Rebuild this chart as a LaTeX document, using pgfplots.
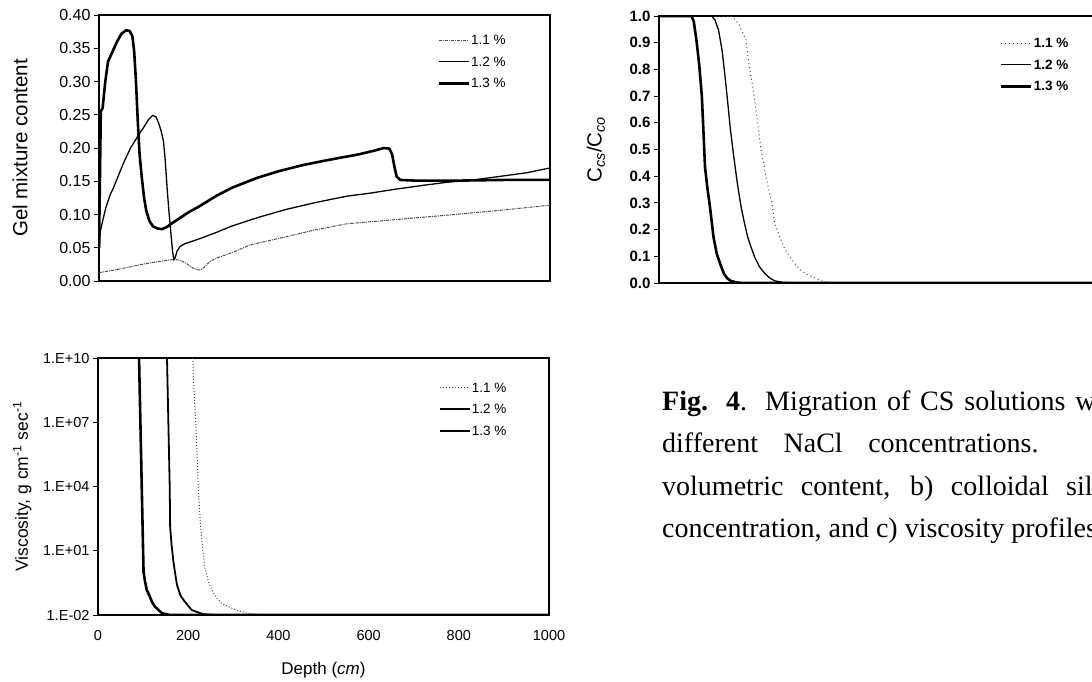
\documentclass[border=0pt]{standalone}
\usepackage{fontspec}
\setmainfont{Liberation Sans}
\newfontfamily\capfont{Liberation Serif}
\usepackage{pgfplots}
\pgfplotsset{compat=1.18}

% 1pt in the picture = 1px of the 1092x681 reference
\pgfplotsset{
  legend image code/.code={\draw[#1] (0pt,0pt) -- (30pt,0pt);},
  panel/.style={
    scale only axis, width=451pt, xmin=0, xmax=1000,
    axis line style={line width=1.3pt},
    tick align=outside, xtick pos=left, ytick pos=left,
    major tick length=5pt,
    every tick/.style={black, line width=1pt},
    tick label style={font=\fontsize{16}{16}\selectfont},
    every axis y label/.style={rotate=90, anchor=center,
      font=\fontsize{20.5}{20.5}\selectfont},
    legend cell align=left,
    legend style={draw=none, fill=none, inner sep=0pt, anchor=north west,
      font=\fontsize{13.5}{13.5}\selectfont, row sep=9pt,
      nodes={inner sep=1pt, text height=9.5pt, text depth=1pt}},
  },
  c11/.style={black!70, line width=1pt},
  c12/.style={black, line width=1.3pt},
  c13/.style={black, line width=2.6pt},
}

\begin{document}
\begin{tikzpicture}

% a) gel mixture content
\begin{axis}[panel, at={(99pt,-281pt)}, anchor=south west, height=266pt,
  ymin=0, ymax=0.4,
  ytick={0,0.05,0.10,0.15,0.20,0.25,0.30,0.35,0.40},
  yticklabels={0.00,0.05,0.10,0.15,0.20,0.25,0.30,0.35,0.40},
  xtick=\empty,
  ylabel={Gel mixture content},
  every axis y label/.append style={at={(axis description cs:-0.175,0.5)}},
  legend style={at={(0.75,0.929)}},
]
\addplot[c11, densely dash dot] coordinates {
(0,0.0125)(30,0.016)(60,0.02)(95,0.025)(130,0.029)(167,0.0325)(180,0.031)
(195,0.026)(207,0.02)(218,0.017)(225,0.0165)(232,0.02)(239,0.025)(250,0.031)
(263,0.035)(300,0.044)(334,0.054)(414,0.0665)(480,0.077)(549,0.086)
(652,0.092)(772,0.099)(900,0.107)(1000,0.114)};
\addlegendentry{1.1 \%}
\addplot[c12] coordinates {
(0,0.04)(3,0.075)(8,0.09)(15,0.11)(25,0.13)(32,0.14)(45,0.162)(56,0.18)
(70,0.2)(88,0.22)(100,0.232)(110,0.243)(119,0.249)(126,0.247)(132,0.238)
(138,0.225)(143,0.21)(147,0.18)(151,0.14)(155,0.105)(159,0.075)(163,0.045)
(166,0.032)(169,0.035)(173,0.045)(180,0.052)(190,0.056)(223,0.0635)
(260,0.073)(294,0.0825)(350,0.095)(414,0.1075)(480,0.118)(549,0.1275)
(600,0.132)(652,0.1375)(720,0.144)(772,0.1485)(830,0.152)(891,0.1575)
(950,0.163)(1000,0.17)};
\addlegendentry{1.2 \%}
\addplot[c13, line join=round] coordinates {
(0,0.05)(2,0.15)(4,0.255)(8,0.26)(14,0.30)(20,0.33)(30,0.345)(40,0.36)
(50,0.372)(60,0.377)(68,0.376)(74,0.368)(78,0.345)(82,0.30)(86,0.24)
(90,0.19)(95,0.155)(100,0.125)(105,0.105)(112,0.09)(120,0.082)(130,0.079)
(140,0.078)(150,0.081)(160,0.086)(180,0.095)(200,0.104)(223,0.1125)
(260,0.128)(294,0.14)(350,0.155)(398,0.165)(450,0.174)(493,0.18)
(540,0.186)(573,0.19)(610,0.196)(632,0.20)(644,0.199)(650,0.19)
(655,0.172)(660,0.157)(668,0.152)(700,0.151)(800,0.151)(900,0.152)
(1000,0.152)};
\addlegendentry{1.3 \%}
\end{axis}

% b) colloidal silica concentration
\begin{axis}[panel, at={(659pt,-283pt)}, anchor=south west, height=267pt,
  ymin=0, ymax=1,
  ytick={0,0.1,0.2,0.3,0.4,0.5,0.6,0.7,0.8,0.9,1},
  yticklabels={0.0,0.1,0.2,0.3,0.4,0.5,0.6,0.7,0.8,0.9,1.0},
  xtick=\empty,
  tick label style={font=\fontsize{15}{15}\selectfont\bfseries},
  ylabel={C\textsubscript{\textit{cs}}/C\textsubscript{\textit{co}}},
  every axis y label/.append style={at={(axis description cs:-0.14,0.5)}},
  legend style={at={(0.756,0.922)}, font=\fontsize{13.5}{13.5}\selectfont\bfseries},
]
\addplot[c11, dash pattern=on 1pt off 3pt] coordinates {
(0,1)(160,1)(170,0.985)(178,0.966)(193,0.91)(200,0.81)(208,0.735)(216,0.635)
(226,0.50)(237,0.40)(250,0.30)(257,0.22)(265,0.185)(278,0.13)(293,0.09)
(310,0.054)(325,0.035)(341,0.0225)(360,0.008)(375,0.002)(400,0)(1000,0)};
\addlegendentry{1.1 \%}
\addplot[c12] coordinates {
(0,1)(117,1)(124,0.985)(132,0.9475)(140,0.87)(146,0.78)(151,0.70)(158,0.58)
(166,0.47)(174,0.37)(182,0.285)(190,0.22)(197,0.17)(205,0.13)(212,0.0975)
(223,0.06)(235,0.035)(246,0.018)(257,0.008)(276,0.002)(295,0)(1000,0)};
\addlegendentry{1.2 \%}
\addplot[c13] coordinates {
(0,1)(72,1)(77,0.98)(83,0.91)(89,0.82)(95,0.70)(99,0.55)(102,0.435)
(107,0.36)(113,0.285)(121,0.17)(128,0.11)(136,0.07)(144,0.035)(151,0.018)
(159,0.008)(172,0.002)(185,0)(1000,0)};
\addlegendentry{1.3 \%}
\end{axis}

% c) viscosity
\begin{axis}[panel, at={(98pt,-615pt)}, anchor=south west, height=257pt,
  ymode=log, ymin=1e-2, ymax=1e10,
  ytick={1e-2,1e1,1e4,1e7,1e10},
  yticklabels={1.E-02,1.E+01,1.E+04,1.E+07,1.E+10},
  xtick={0,200,400,600,800,1000},
  xticklabels={0,200,400,600,800,1000},
  xtick style={draw=none},
  tick label style={font=\fontsize{14.5}{14.5}\selectfont},
  xticklabel style={yshift=-7pt},
  ylabel={Viscosity, g cm\textsuperscript{-1} sec\textsuperscript{-1}},
  every axis y label/.append style={at={(axis description cs:-0.168,0.5)},
    font=\fontsize{17.5}{17.5}\selectfont},
  xlabel={Depth (\textit{cm})},
  every axis x label/.style={at={(axis description cs:0.5,-0.214)},
    anchor=center, font=\fontsize{17}{17}\selectfont},
  legend style={at={(0.754,0.909)}},
]
\addplot[c11, dash pattern=on 1pt off 2pt] coordinates {
(210,1e10)(213,3e8)(217,7e6)(220,2e5)(223,4.8e3)(226,400)(229,62)(233,8)
(237,1.6)(245,0.35)(254,0.13)(264,0.06)(274,0.035)(290,0.024)(307,0.017)
(332,0.012)(374,0.01)(1000,0.01)};
\addlegendentry{1.1 \%}
\addplot[c12, line width=1.8pt] coordinates {
(153,1e10)(155,1e8)(157,1e6)(159,1e4)(160,126)(163,20)(167,3.4)(171,0.9)
(175,0.26)(183,0.08)(192,0.043)(208,0.017)(233,0.011)(260,0.01)(1000,0.01)};
\addlegendentry{1.2 \%}
\addplot[c13, line join=round] coordinates {
(91,1e10)(93,1e8)(95,1e6)(97,1e4)(99,1e2)(101,1)(104,0.4)(108,0.15)
(113,0.09)(120,0.04)(126,0.025)(142,0.012)(160,0.01)(1000,0.01)};
\addlegendentry{1.3 \%}
\end{axis}

% caption
\begin{scope}[every node/.style={anchor=base west, inner sep=0pt,
    font=\capfont\fontsize{28}{28}\selectfont}]
\node at (662pt,-410pt) {\makebox[463pt][s]{\textbf{Fig. 4}. Migration of CS solutions with}};
\node at (662pt,-452pt) {\makebox[463pt][s]{different NaCl concentrations. a)}};
\node at (662pt,-495pt) {\makebox[463pt][s]{volumetric content, b) colloidal silica}};
\node at (662pt,-537pt) {concentration, and c) viscosity profiles.};
\end{scope}

\pgfresetboundingbox
\path[use as bounding box] (0pt,0pt) rectangle (1092pt,-681pt);
\end{tikzpicture}
\end{document}
